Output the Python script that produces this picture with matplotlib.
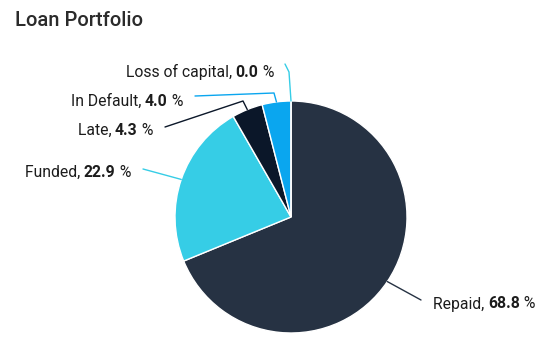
import numpy as np
import matplotlib.pyplot as plt

plt.rcParams['font.family'] = ['Roboto', 'DejaVu Sans']

# data
labels = ["Repaid", "Funded", "Late", "In Default", "Loss of capital"]
values = [68.8, 22.9, 4.3, 4.0, 0.0]
colors = ["#263243", "#36cde6", "#0b1729", "#0aa6ef", "#1ec3f0"]
line_colors = ["#263243", "#36cde6", "#0b1729", "#0aa6ef", "#36cde6"]

W, H = 539, 347
FS = 11.3
fig = plt.figure(figsize=(W / 100, H / 100), dpi=100)
ax = fig.add_axes([0, 0, 1, 1])

cx, cy, r = 291, H - 217, 116
wedges, _ = ax.pie(values, colors=colors, startangle=90, counterclock=False,
                   center=(cx, cy), radius=r, frame=True,
                   wedgeprops=dict(edgecolor="white", linewidth=1))
ax.set_xlim(0, W)
ax.set_ylim(0, H)
ax.axis("off")

# label layout (pixel coords, y down): text anchor, line start, side
layout = {
    "Repaid": ((433, 304), (421, 300), "left"),
    "Funded": ((131, 172), (143, 169), "right"),
    "Late": ((153, 130), (165, 127), "right"),
    "In Default": ((183, 101), (195, 96), "right"),
    "Loss of capital": ((274, 72), (285, 64), "right"),
}
bends = {
    "Late": (243, 101),
    "In Default": (274, 93),
    "Loss of capital": (289, 72),
}


def draw_label(name, val, x, y, side):
    parts = [(name + ", ", "normal"), (f"{val:.1f}", "bold"), (" %", "normal")]
    kw = dict(fontsize=FS, color="#1c1c1c", va="center")
    if side == "left":
        t = ax.text(x, H - y, parts[0][0], ha="left", fontweight=parts[0][1], **kw)
        for txt, w in parts[1:]:
            t = ax.annotate(txt, xy=(1, 0), xycoords=t, ha="left", va="bottom",
                            fontweight=w, fontsize=FS, color="#1c1c1c")
    else:
        t = ax.text(x, H - y, parts[2][0], ha="right", fontweight=parts[2][1], **kw)
        for txt, w in parts[1::-1]:
            t = ax.annotate(txt, xy=(0, 0), xycoords=t, ha="right", va="bottom",
                            fontweight=w, fontsize=FS, color="#1c1c1c")


for wdg, name, val, lc in zip(wedges, labels, values, line_colors):
    mid = np.deg2rad((wdg.theta1 + wdg.theta2) / 2)
    ex, ey = cx + r * np.cos(mid), cy + r * np.sin(mid)
    (tx, ty), (sx, sy), side = layout[name]
    xs, ys = [sx], [H - sy]
    if name in bends:
        bx, by = bends[name]
        xs.append(bx)
        ys.append(H - by)
    xs.append(ex)
    ys.append(ey)
    ax.plot(xs, ys, color=lc, lw=1, solid_capstyle="round")
    draw_label(name, val, tx, ty, side)

fig.text(15 / W, 1 - 20 / H, "Loan Portfolio", fontsize=14.5, fontweight="medium",
         color="#2b2b2b", ha="left", va="center")

fig.savefig("out.png", dpi=100)
